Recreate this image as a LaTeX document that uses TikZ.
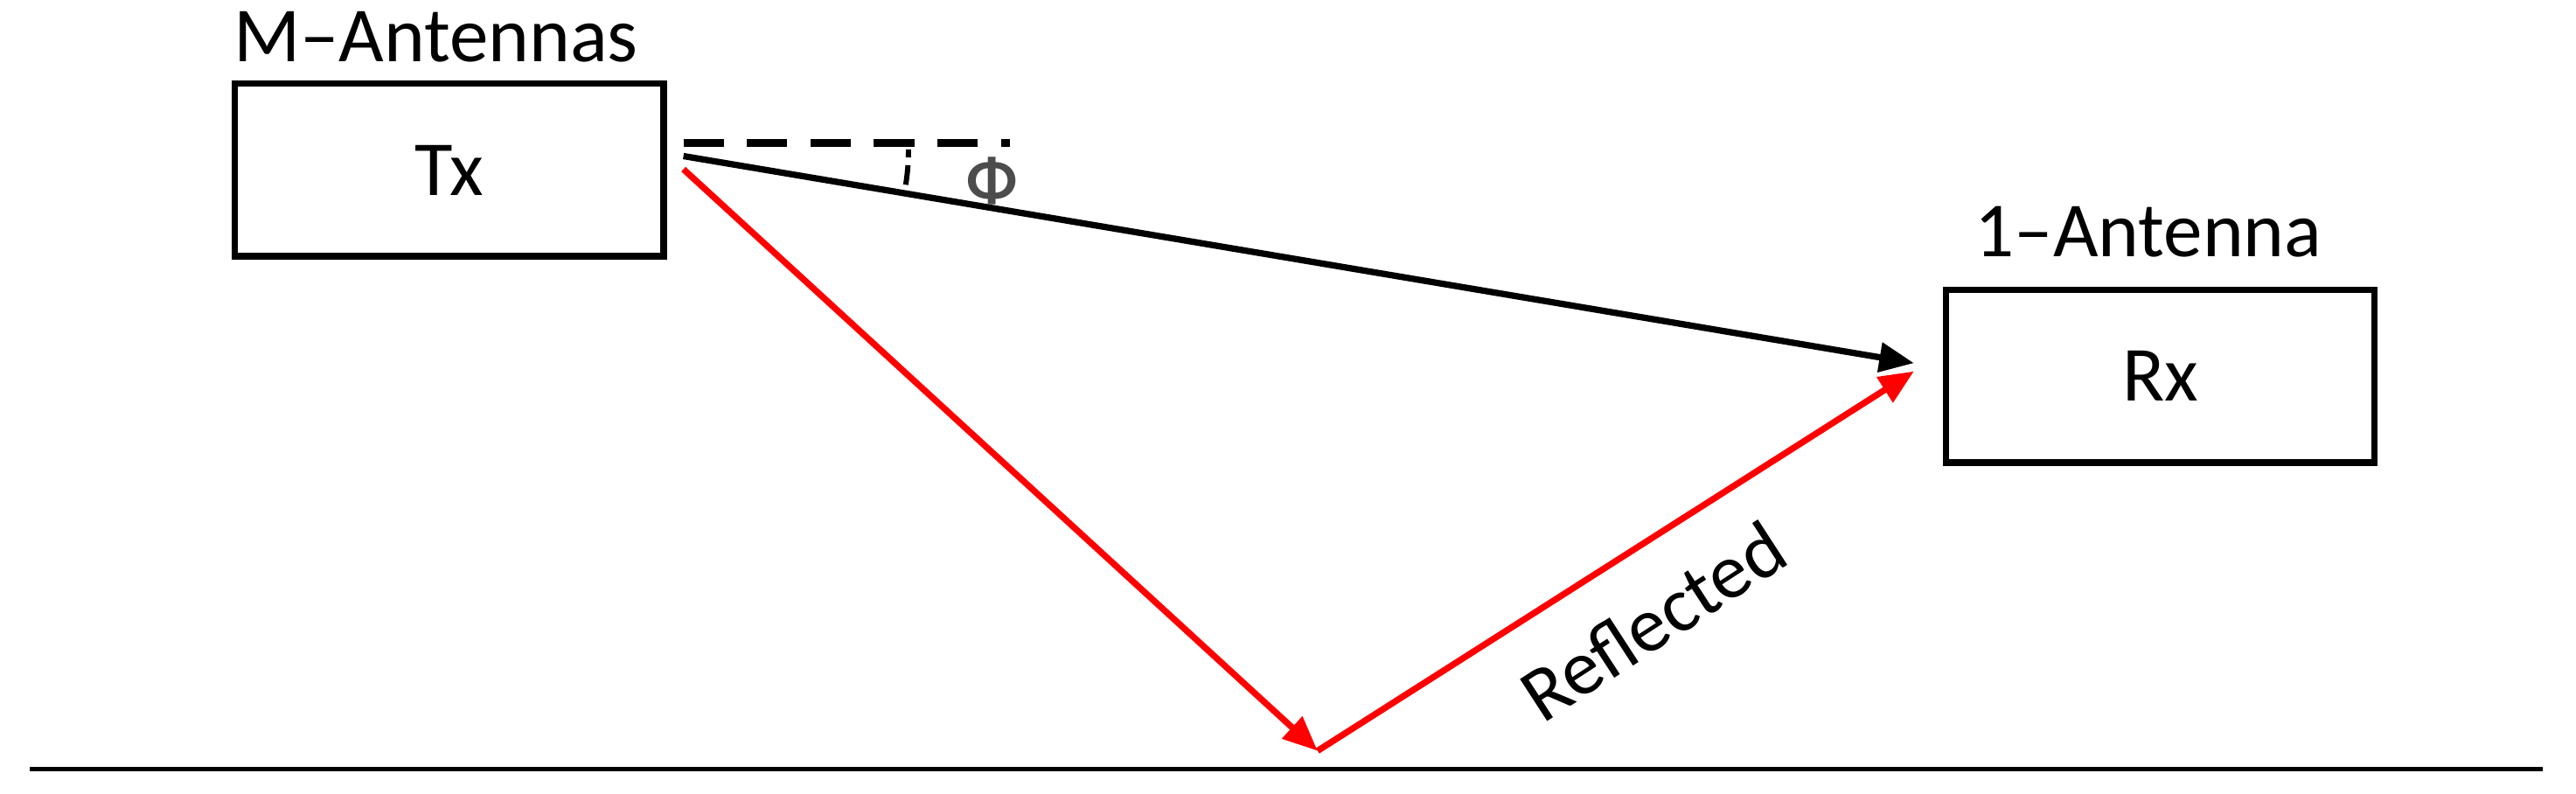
\documentclass[tikz,border=0pt]{standalone}
\usepackage{fontspec}
\setmainfont{Carlito}
\usetikzlibrary{arrows.meta}
\begin{document}
\begin{tikzpicture}[x=0.02cm,y=-0.02cm,
  box/.style={draw,line width=2.2pt,minimum width=5.22cm,minimum height=2.1cm,font=\fontsize{27}{30}\selectfont},
  lbl/.style={font=\fontsize{27}{30}\selectfont},
  arr/.style={line width=2.2pt,-{Triangle[length=12pt,width=10pt]}}]
\useasboundingbox (0,0) rectangle (1568,483);
\node[box] (tx) at (273.5,103.5) {Tx};
\node[box] (rx) at (1315,229) {Rx};
\node[lbl,anchor=south west] (ml) at (136,44) {M–Antennas};
\node[lbl,anchor=south west] (al) at (1196,163) {1–Antenna};
\coordinate (s1) at (416,95);
\coordinate (s2) at (416,103);
\coordinate (g) at (802,457);
\coordinate (e1) at (1165,221);
\coordinate (e2) at (1165,226);
\coordinate (d0) at (416,87);
\coordinate (d1) at (615,87);
\draw[line width=2.8pt,dash pattern=on 14pt off 8pt] (d0) -- (d1);
\draw[arr] (s1) -- (e1);
\draw[arr,red] (s2) -- (g);
\draw[arr,red] (g) -- (e2);
\draw[line width=1.8pt] (416,91) ++(0:137) arc[start angle=0,end angle=2,radius=137];
\draw[line width=1.8pt] (416,91) ++(4:137) arc[start angle=4,end angle=9,radius=137];
\node[font=\fontsize{22}{24}\selectfont\bfseries,text=black!70] (phi) at (604,110) {Φ};
\node[lbl,rotate=33] (rf) at (1006,378) {Reflected};
\coordinate (b0) at (18,468);
\coordinate (b1) at (1548,468);
\draw[line width=1.6pt] (b0) -- (b1);
\end{tikzpicture}
\end{document}
